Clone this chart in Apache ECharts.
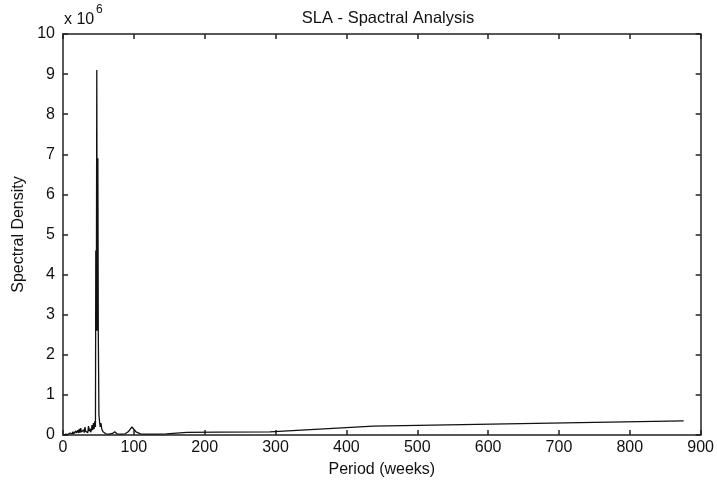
<!DOCTYPE html>
<html>
<head>
<meta charset="utf-8">
<script src="https://cdn.jsdelivr.net/npm/echarts@6/dist/echarts.min.js"></script>
<style>
html,body{margin:0;padding:0;background:#fff;}
#chart{width:717px;height:483px;}
</style>
</head>
<body>
<div id="chart"></div>
<script>
// Period (weeks)
const periods = [
  1, 2, 3, 4, 5, 6, 7, 8, 9, 10, 11, 12, 13, 14, 15, 16, 17, 18, 19, 20,
  21, 22, 23, 24, 25, 26, 27, 28, 29, 30, 31, 32, 33, 34, 35, 36, 37, 38, 39, 40,
  41, 42, 43, 44, 45, 45.8,
  46.3, 47.0, 47.7, 48.3, 49.2, 49.8, 50.7, 51.5, 52.5, 53.5, 54.75, 56.5, 58.4, 60.5, 62.6, 65, 67.4, 70, 73, 76, 79.6, 83.5, 87.6, 92, 97.3, 103, 109.5, 117, 125, 135, 146, 175, 219, 292, 438, 876
];
// Spectral density (x 10^6)
const density = [
  0.00, 0.01, 0.00, 0.02, 0.01, 0.03, 0.01, 0.04, 0.02, 0.05, 0.02, 0.06, 0.03, 0.08, 0.03, 0.07, 0.04, 0.10, 0.05, 0.04,
  0.12, 0.05, 0.15, 0.06, 0.17, 0.07, 0.10, 0.05, 0.13, 0.06, 0.20, 0.09, 0.05, 0.12, 0.06, 0.22, 0.10, 0.16, 0.07, 0.12,
  0.25, 0.12, 0.30, 0.15, 0.35, 0.20,
  4.6, 2.6, 9.1, 2.6, 6.9, 2.6, 0.5, 0.35, 0.2, 0.3, 0.15, 0.08, 0.05, 0.03, 0.03, 0.02, 0.03, 0.04, 0.08, 0.03, 0.02, 0.02, 0.03, 0.08, 0.20, 0.08, 0.03, 0.02, 0.02, 0.02, 0.03, 0.065, 0.07, 0.08, 0.22, 0.35
];
const xTicks = { min: 0, max: 900, interval: 100 };
const yTicks = { min: 0, max: 10, interval: 1 };

const font = 'Liberation Sans, Arial, sans-serif';
const data = periods.map((p, i) => [p, density[i]]);
const chart = echarts.init(document.getElementById('chart'));
const axisLineStyle = { color: '#222', width: 1.5 };
chart.setOption({
  backgroundColor: '#fff',
  animation: false,
  title: {
    text: 'SLA - Spactral Analysis',
    left: 383, top: 5, textAlign: 'center',
    textStyle: { fontFamily: font, fontSize: 16.5, fontWeight: 'normal', color: '#111' }
  },
  grid: { left: 63, right: 14, top: 34, bottom: 46 },
  graphic: [
    { type: 'text', left: 64, top: 12, style: { text: 'x 10', font: '16px ' + font, fill: '#111' } },
    { type: 'text', left: 96, top: 4, style: { text: '6', font: '12px ' + font, fill: '#111' } }
  ],
  xAxis: [
    {
      type: 'value', position: 'bottom', min: xTicks.min, max: xTicks.max, interval: xTicks.interval,
      name: 'Period (weeks)', nameLocation: 'middle', nameGap: 27,
      nameTextStyle: { fontFamily: font, fontSize: 16, color: '#111' },
      axisLine: { show: true, onZero: false, lineStyle: axisLineStyle },
      axisTick: { show: true, inside: true, length: 5, lineStyle: axisLineStyle },
      axisLabel: { fontFamily: font, fontSize: 16, color: '#111', margin: 5 },
      splitLine: { show: false }
    },
    {
      type: 'value', position: 'top', min: xTicks.min, max: xTicks.max, interval: xTicks.interval,
      axisLine: { show: true, onZero: false, lineStyle: axisLineStyle },
      axisTick: { show: true, inside: true, length: 5, lineStyle: axisLineStyle },
      axisLabel: { show: false },
      splitLine: { show: false }
    }
  ],
  yAxis: [
    {
      type: 'value', position: 'left', min: yTicks.min, max: yTicks.max, interval: yTicks.interval,
      name: 'Spectral Density', nameLocation: 'middle', nameGap: 34, nameRotate: 90,
      nameTextStyle: { fontFamily: font, fontSize: 16, color: '#111' },
      axisLine: { show: true, onZero: false, lineStyle: axisLineStyle },
      axisTick: { show: true, inside: true, length: 5, lineStyle: axisLineStyle },
      axisLabel: { fontFamily: font, fontSize: 16, color: '#111', margin: 8 },
      splitLine: { show: false }
    },
    {
      type: 'value', position: 'right', min: yTicks.min, max: yTicks.max, interval: yTicks.interval,
      axisLine: { show: true, onZero: false, lineStyle: axisLineStyle },
      axisTick: { show: true, inside: true, length: 5, lineStyle: axisLineStyle },
      axisLabel: { show: false },
      splitLine: { show: false }
    }
  ],
  series: [{
    type: 'line', xAxisIndex: 0, yAxisIndex: 0,
    data: data, showSymbol: false, symbol: 'none',
    lineStyle: { color: '#111', width: 1.3 }
  }]
});
</script>
</body>
</html>
